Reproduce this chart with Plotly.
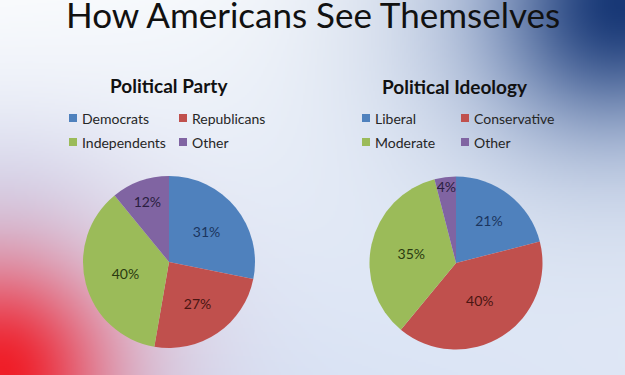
import base64, struct, zlib
import numpy as np
import plotly.graph_objects as go

# ---------------- data ----------------
party_labels = ["Democrats", "Republicans", "Independents", "Other"]
party_values = [31, 27, 40, 12]
ideology_labels = ["Liberal", "Conservative", "Moderate", "Other"]
ideology_values = [21, 40, 35, 4]
slice_colors = ["#4F81BD", "#C0504D", "#9BBB59", "#8064A2"]
text_colors = ["#1B355E", "#4A1512", "#2A3A10", "#2A1E40"]

W, H = 625, 375

# ---------------- background gradient (PNG data URI) ----------------
def make_bg(w=313, h=188):
    xs = (np.arange(w) + 0.5) / w * W
    ys = (np.arange(h) + 0.5) / h * H
    X, Y = np.meshgrid(xs, ys)
    u, v = X / W, Y / H
    white = np.array([249, 251, 253], float)
    lblue = np.array([200, 214, 240], float)
    t = np.clip(0.9 * v * (1 - 0.5 * u) + 0.15 * u, 0, 1)[..., None] * 0.85
    img = white * (1 - t) + lblue * t
    # light blue haze on the left middle
    wl = np.exp(-((X / 120) ** 2 + ((Y - 215) / 90) ** 2))[..., None] * 0.55
    img = img * (1 - wl) + np.array([198, 213, 240], float) * wl
    # blue haze toward top-right
    wh = np.exp(-(((W - X) / 220) ** 2 + (Y / 185) ** 2))[..., None] * 0.8
    img = img * (1 - wh) + np.array([120, 145, 192], float) * wh
    # dark blue band at the corner, elongated along the diagonal
    a = (W - X) * 0.8 + Y * 0.6
    b = -(W - X) * 0.6 + Y * 0.8
    wb = np.exp(-((a / 110) ** 2 + (b / 95) ** 2))[..., None]
    img = img * (1 - wb) + np.array([24, 56, 118], float) * wb
    # pink haze bottom-left
    wp = np.exp(-((X / 155) ** 2 + ((H - Y) / 150) ** 2))[..., None] * 0.8
    img = img * (1 - wp) + np.array([222, 135, 165], float) * wp
    # red corner
    wr = np.exp(-((X / 90) ** 2 + ((H - Y) / 95) ** 2))[..., None]
    img = img * (1 - wr) + np.array([240, 30, 40], float) * wr
    img = np.clip(img, 0, 255).astype(np.uint8)
    raw = b"".join(b"\x00" + img[r].tobytes() for r in range(h))
    def chunk(tag, data):
        c = struct.pack(">I", len(data)) + tag + data
        return c + struct.pack(">I", zlib.crc32(tag + data) & 0xFFFFFFFF)
    png = b"\x89PNG\r\n\x1a\n" + chunk(b"IHDR", struct.pack(">IIBBBBB", w, h, 8, 2, 0, 0, 0)) \
        + chunk(b"IDAT", zlib.compress(raw, 9)) + chunk(b"IEND", b"")
    return "data:image/png;base64," + base64.b64encode(png).decode()

FONT = "Lato"

def pie(values, labels, cx, cy, r):
    return go.Pie(
        values=values, labels=labels,
        text=[f"{v}%" for v in values], textinfo="text",
        textposition="inside", insidetextorientation="horizontal",
        textfont=dict(family=FONT, size=14, color=text_colors),
        marker=dict(colors=slice_colors, line=dict(width=0)),
        sort=False, direction="clockwise", rotation=0,
        showlegend=False, hoverinfo="label+text",
        domain=dict(x=[(cx - r) / W, (cx + r) / W], y=[(H - cy - r) / H, (H - cy + r) / H]),
    )

fig = go.Figure()
fig.add_trace(pie(party_values, party_labels, 169, 262, 86))
fig.add_trace(pie(ideology_values, ideology_labels, 456, 263, 86.5))

ann = [dict(text="How Americans See Themselves", x=313 / W, y=1 - 14 / H, xref="paper", yref="paper",
            xanchor="center", yanchor="middle", showarrow=False,
            font=dict(family=FONT, size=35, color="#111111"))]
ann.append(dict(text="<b>Political Party</b>", x=169 / W, y=1 - 85 / H, xref="paper", yref="paper",
                xanchor="center", yanchor="middle", showarrow=False, font=dict(family=FONT, size=19, color="#111111")))
ann.append(dict(text="<b>Political Ideology</b>", x=455 / W, y=1 - 86 / H, xref="paper", yref="paper",
                xanchor="center", yanchor="middle", showarrow=False, font=dict(family=FONT, size=19, color="#111111")))

shapes = []
def legend(labels, xs_marker, ys):
    for i, lab in enumerate(labels):
        mx = xs_marker[i % 2]
        my = ys[i // 2]
        shapes.append(dict(type="rect", xref="paper", yref="paper",
                           x0=(mx - 4) / W, x1=(mx + 4) / W, y0=1 - (my + 4) / H, y1=1 - (my - 4) / H,
                           fillcolor=slice_colors[i], line=dict(width=0)))
        ann.append(dict(text=lab, x=(mx + 7) / W, y=1 - my / H, xref="paper", yref="paper",
                        xanchor="left", yanchor="middle", showarrow=False,
                        font=dict(family=FONT, size=14, color="#262626")))

legend(party_labels, [73, 183], [118, 142])
legend(ideology_labels, [366, 465], [118, 142])

fig.update_layout(
    width=W, height=H, margin=dict(l=0, r=0, t=0, b=0),
    paper_bgcolor="rgba(0,0,0,0)", plot_bgcolor="rgba(0,0,0,0)",
    annotations=ann, shapes=shapes,
    uniformtext=dict(mode="show", minsize=14),
    images=[dict(source=make_bg(), xref="paper", yref="paper", x=0, y=1, sizex=1, sizey=1,
                 xanchor="left", yanchor="top", sizing="stretch", layer="below")],
)
fig.write_html("out.html", config={"displayModeBar": False},
               post_script="document.body.style.margin='0';")
